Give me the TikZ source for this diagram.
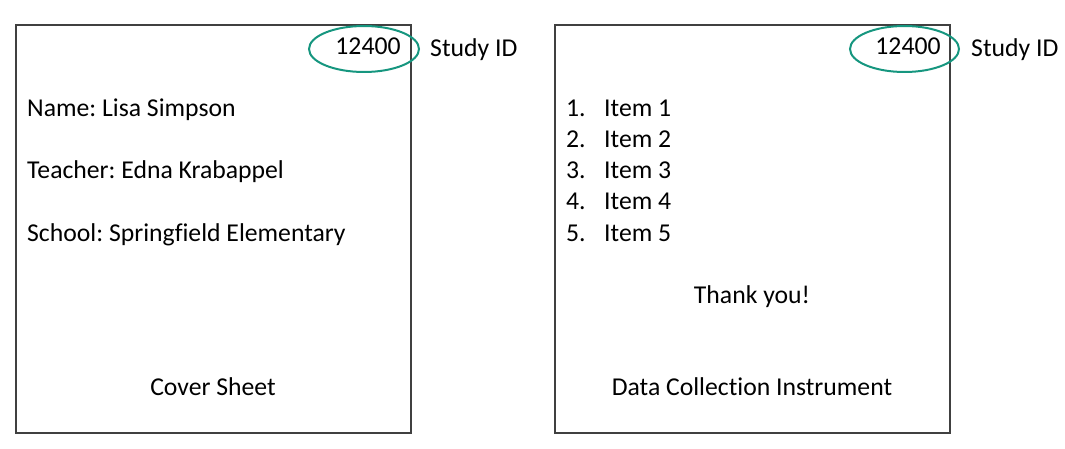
\documentclass[tikz,border=0pt]{standalone}
\usepackage{fontspec}
\setmainfont{Carlito}[Ligatures=NoCommon]
\definecolor{boxgray}{HTML}{404040}
\definecolor{tealring}{HTML}{16967F}
\begin{document}
\frenchspacing
\begin{tikzpicture}[x=1pt,y=-1pt,
  sheet/.style={draw=boxgray,line width=2pt},
  ring/.style={draw=tealring,line width=2pt},
  txt/.style={inner sep=0pt,font=\fontsize{25.7}{30}\selectfont},
]
\useasboundingbox (0,0) rectangle (1065,449);
% left sheet
\draw[sheet] (16,25) rectangle (411,433);
\draw[ring] (364,49) ellipse [x radius=55, y radius=23];
\node[txt,anchor=base] (idl) at (368,55) {12400};
\node[txt,anchor=base west] (sidl) at (430,57) {Study ID};
\node[txt,anchor=base west] (name) at (27,117) {Name: Lisa Simpson};
\node[txt,anchor=base west] (teacher) at (27,179) {Teacher: Edna Krabappel};
\node[txt,anchor=base west] (school) at (27,241) {School: Springfield Elementary};
\node[txt,anchor=base] (cover) at (213,395) {Cover Sheet};
% right sheet
\draw[sheet] (555,25) rectangle (950,433);
\draw[ring] (904.5,49) ellipse [x radius=54.5, y radius=23];
\node[txt,anchor=base] (idr) at (908,55) {12400};
\node[txt,anchor=base west] (sidr) at (971,57) {Study ID};
\foreach \i/\y in {1/117,2/148,3/179,4/210,5/241}{
  \node[txt,anchor=base west] (n\i) at (566,\y) {\i.};
  \node[txt,anchor=base west] (it\i) at (604,\y) {Item \i};
}
\node[txt,anchor=base] (thanks) at (752,303) {Thank you!};
\node[txt,anchor=base] (dci) at (752,395) {Data Collection Instrument};
\end{tikzpicture}
\end{document}
